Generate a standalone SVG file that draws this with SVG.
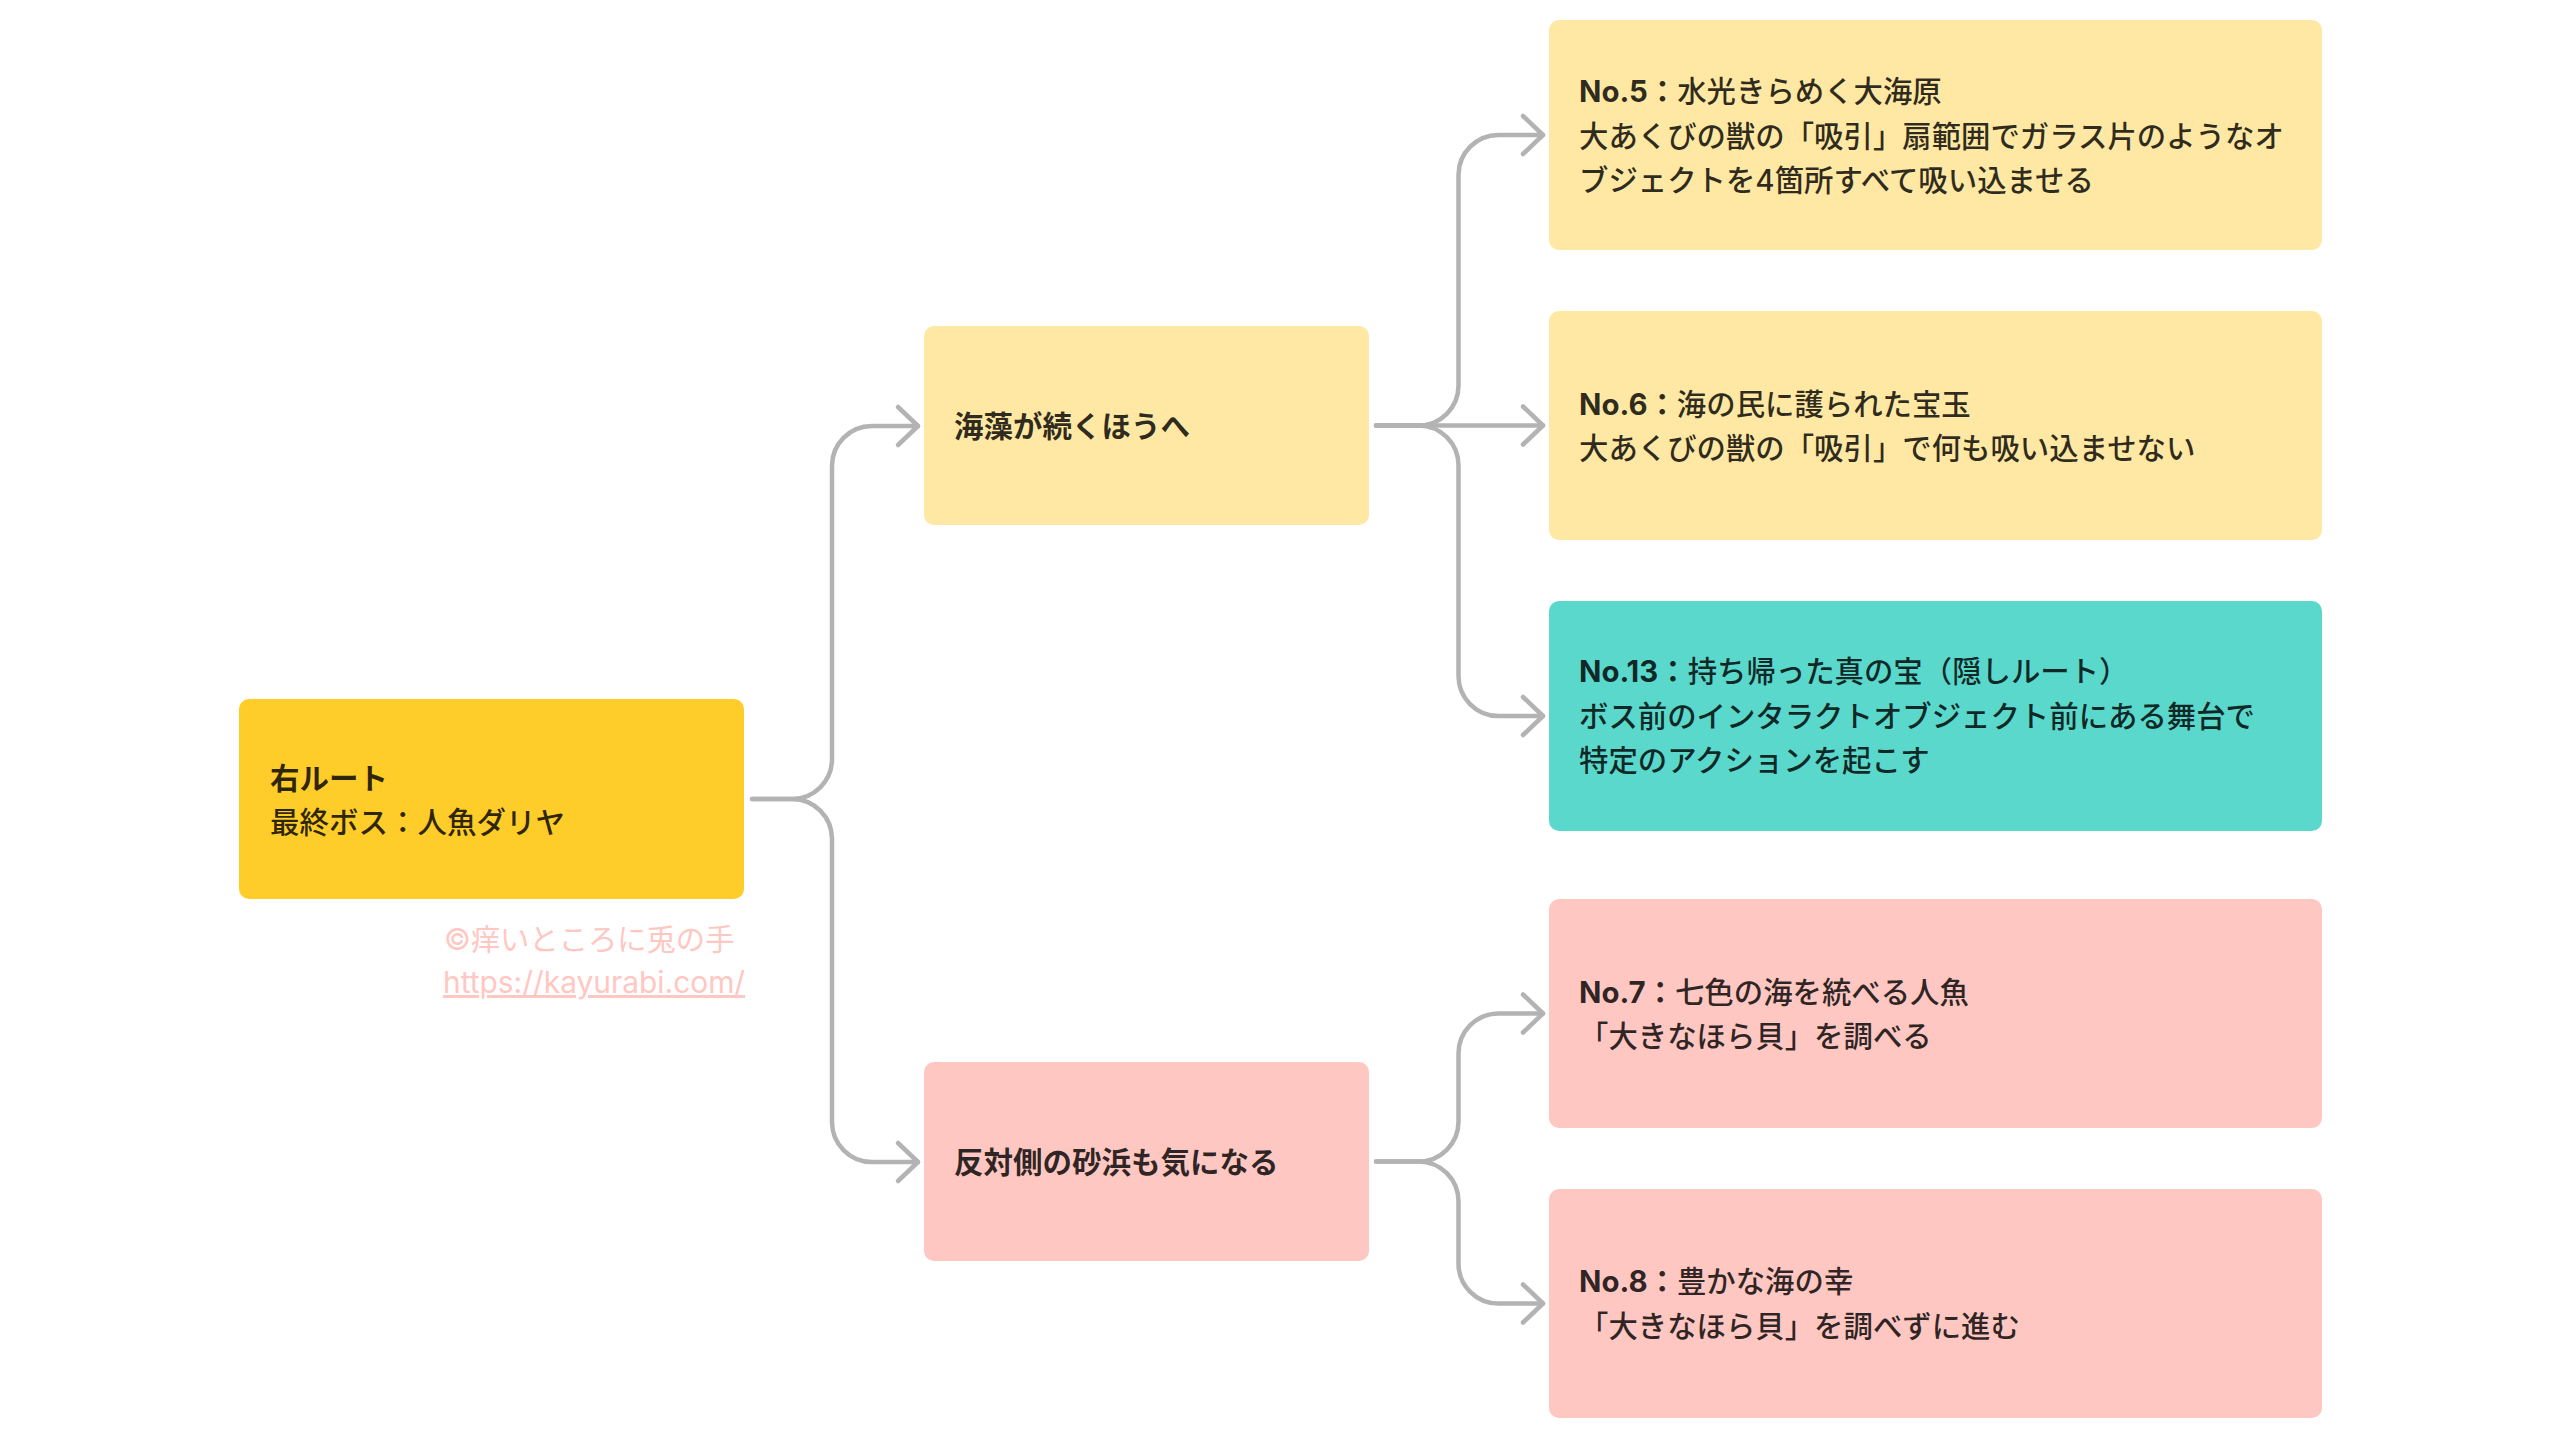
<svg xmlns="http://www.w3.org/2000/svg" width="2560" height="1440" viewBox="0 0 2560 1440">
<style>
.t{font-family:Inter,"Noto Sans CJK JP",sans-serif;fill:#000;fill-opacity:.82;font-weight:500}
.b{font-weight:700}
.s{font-size:29.4px}
.m{font-size:29.5px}
.wm{font-family:Inter,"Noto Sans CJK JP",sans-serif;font-size:29.3px;fill:#FFC7C2}
.url{font-size:29.9px}
.conn{fill:none;stroke:#B3B3B3;stroke-width:4.5;stroke-linecap:round;stroke-linejoin:round}
.root{fill:#FFCD29}
.yel{fill:#FFE8A3}
.teal{fill:#5AD8CC}
.pink{fill:#FFC7C2}
</style>
<defs>
<marker id="ah" markerUnits="userSpaceOnUse" viewBox="-26 -24 30 48" refX="0" refY="0" markerWidth="30" markerHeight="48" orient="auto">
<path d="M-20,-19 L0,0 L-20,19" fill="none" stroke="#B3B3B3" stroke-width="4.5" stroke-linecap="round" stroke-linejoin="round"/>
</marker>
</defs>
<rect width="2560" height="1440" fill="#FFFFFF"/>

<g id="connectors">
<path class="conn" marker-end="url(#ah)" d="M752,799 H792 A40,40 0 0 0 832,759 V466 A40,40 0 0 1 872,426 H918"/>
<path class="conn" marker-end="url(#ah)" d="M752,799 H792 A40,40 0 0 1 832,839 V1122 A40,40 0 0 0 872,1162 H918"/>
<path class="conn" marker-end="url(#ah)" d="M1376,425.5 H1418.5 A40,40 0 0 0 1458.5,385.5 V175 A40,40 0 0 1 1498.5,135 H1543"/>
<path class="conn" marker-end="url(#ah)" d="M1376,425.5 H1543"/>
<path class="conn" marker-end="url(#ah)" d="M1376,425.5 H1418.5 A40,40 0 0 1 1458.5,465.5 V676 A40,40 0 0 0 1498.5,716 H1543"/>
<path class="conn" marker-end="url(#ah)" d="M1376,1161.5 H1418.5 A40,40 0 0 0 1458.5,1121.5 V1053.5 A40,40 0 0 1 1498.5,1013.5 H1543"/>
<path class="conn" marker-end="url(#ah)" d="M1376,1161.5 H1418.5 A40,40 0 0 1 1458.5,1201.5 V1263.5 A40,40 0 0 0 1498.5,1303.5 H1543"/>
</g>

<g id="root">
<rect class="root" x="239" y="699" width="505" height="200" rx="10"/>
<text class="t m" x="270" y="789"><tspan class="b">右ルート</tspan></text>
<text class="t m" x="270" y="833">最終ボス：人魚ダリヤ</text>
</g>

<g id="watermark">
<text class="wm" x="444" y="950">©痒いところに兎の手</text>
<text class="wm url" x="443" y="993" text-decoration="underline">https://kayurabi.com/</text>
</g>

<g id="mid1">
<rect class="yel" x="924" y="326" width="445" height="199" rx="10"/>
<text class="t m b" x="954" y="437">海藻が続くほうへ</text>
</g>

<g id="mid2">
<rect class="pink" x="924" y="1062" width="445" height="199" rx="10"/>
<text class="t m b" x="954" y="1173">反対側の砂浜も気になる</text>
</g>

<g id="no5">
<rect class="yel" x="1549" y="20" width="773" height="230" rx="10"/>
<text class="t s" x="1579" y="102"><tspan class="b">No.5：</tspan>水光きらめく大海原</text>
<text class="t s" x="1579" y="146.5">大あくびの獣の「吸引」扇範囲でガラス片のようなオ</text>
<text class="t s" x="1579" y="191">ブジェクトを4箇所すべて吸い込ませる</text>
</g>

<g id="no6">
<rect class="yel" x="1549" y="311" width="773" height="229" rx="10"/>
<text class="t s" x="1579" y="414.5"><tspan class="b">No.6：</tspan>海の民に護られた宝玉</text>
<text class="t s" x="1579" y="459">大あくびの獣の「吸引」で何も吸い込ませない</text>
</g>

<g id="no13">
<rect class="teal" x="1549" y="601" width="773" height="230" rx="10"/>
<text class="t s" x="1579" y="682"><tspan class="b">No.13：</tspan>持ち帰った真の宝（隠しルート）</text>
<text class="t s" x="1579" y="726.5">ボス前のインタラクトオブジェクト前にある舞台で</text>
<text class="t s" x="1579" y="771">特定のアクションを起こす</text>
</g>

<g id="no7">
<rect class="pink" x="1549" y="899" width="773" height="229" rx="10"/>
<text class="t s" x="1579" y="1002.5"><tspan class="b">No.7：</tspan>七色の海を統べる人魚</text>
<text class="t s" x="1579" y="1047">「大きなほら貝」を調べる</text>
</g>

<g id="no8">
<rect class="pink" x="1549" y="1189" width="773" height="229" rx="10"/>
<text class="t s" x="1579" y="1292"><tspan class="b">No.8：</tspan>豊かな海の幸</text>
<text class="t s" x="1579" y="1336.5">「大きなほら貝」を調べずに進む</text>
</g>
</svg>
